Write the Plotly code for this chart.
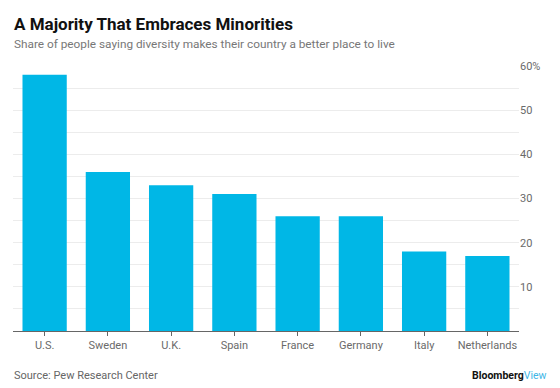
import plotly.graph_objects as go

countries = ["U.S.", "Sweden", "U.K.", "Spain", "France", "Germany", "Italy", "Netherlands"]
share = [58, 36, 33, 31, 26, 26, 18, 17]
y_tickvals = [0, 10, 20, 30, 40, 50, 60]
y_ticktext = ["", "10", "20", "30", "40", "50", "60%"]

W, H = 560, 388
L, R, T, B = 13, 41, 66, 57
ph = H - T - B
pw = W - L - R

def py(px_from_top):
    return 1 + (T - px_from_top) / ph

def px(x_px):
    return (x_px - L) / pw

fig = go.Figure(go.Bar(
    x=countries, y=share,
    marker=dict(color="#00b7e6", line=dict(width=0)),
    width=0.7,
    hoverinfo="x+y",
))

fig.update_layout(
    width=W, height=H,
    margin=dict(l=L, r=R, t=T, b=B),
    paper_bgcolor="white", plot_bgcolor="white",
    font=dict(family="Roboto, Arial, sans-serif", color="#666"),
    showlegend=False,
    bargap=0.3,
    xaxis=dict(
        showline=True, linecolor="#666", linewidth=1,
        ticks="outside", ticklen=4, tickcolor="#666",
        tickfont=dict(size=11, color="#6a6a6a"),
        showgrid=False,
    ),
    yaxis=dict(
        side="right", range=[0, 60],
        tickvals=y_tickvals, ticktext=y_ticktext,
        tickfont=dict(size=11, color="#6a6a6a"),
        showgrid=True, gridcolor="#ececec", gridwidth=1,
        zeroline=False, showline=False, ticks="",
        minor=dict(dtick=5, showgrid=True, gridcolor="#ececec", gridwidth=1),
    ),
    annotations=[
        dict(text="<b>A Majority That Embraces Minorities</b>", xref="paper", yref="paper",
             x=px(12), y=py(24), xanchor="left", yanchor="middle", showarrow=False,
             font=dict(size=17, color="#111", family="Roboto, Arial, sans-serif")),
        dict(text="Share of people saying diversity makes their country a better place to live",
             xref="paper", yref="paper",
             x=px(12), y=py(44), xanchor="left", yanchor="middle", showarrow=False,
             font=dict(size=11.8, color="#777", family="Roboto, Arial, sans-serif")),
        dict(text="Source: Pew Research Center", xref="paper", yref="paper",
             x=px(12), y=py(375), xanchor="left", yanchor="middle", showarrow=False,
             font=dict(size=11, color="#666", family="Roboto, Arial, sans-serif")),
        dict(text="<b>Bloomberg</b><span style='color:#3fb6e6'>View</span>", xref="paper", yref="paper",
             x=px(549), y=py(375), xanchor="right", yanchor="middle", showarrow=False,
             font=dict(size=10.5, color="#111", family="Roboto, Arial, sans-serif")),
    ],
)

fig.write_html("out.html", config={"displayModeBar": False},
               post_script="document.body.style.margin='0';document.body.style.overflow='hidden';")
